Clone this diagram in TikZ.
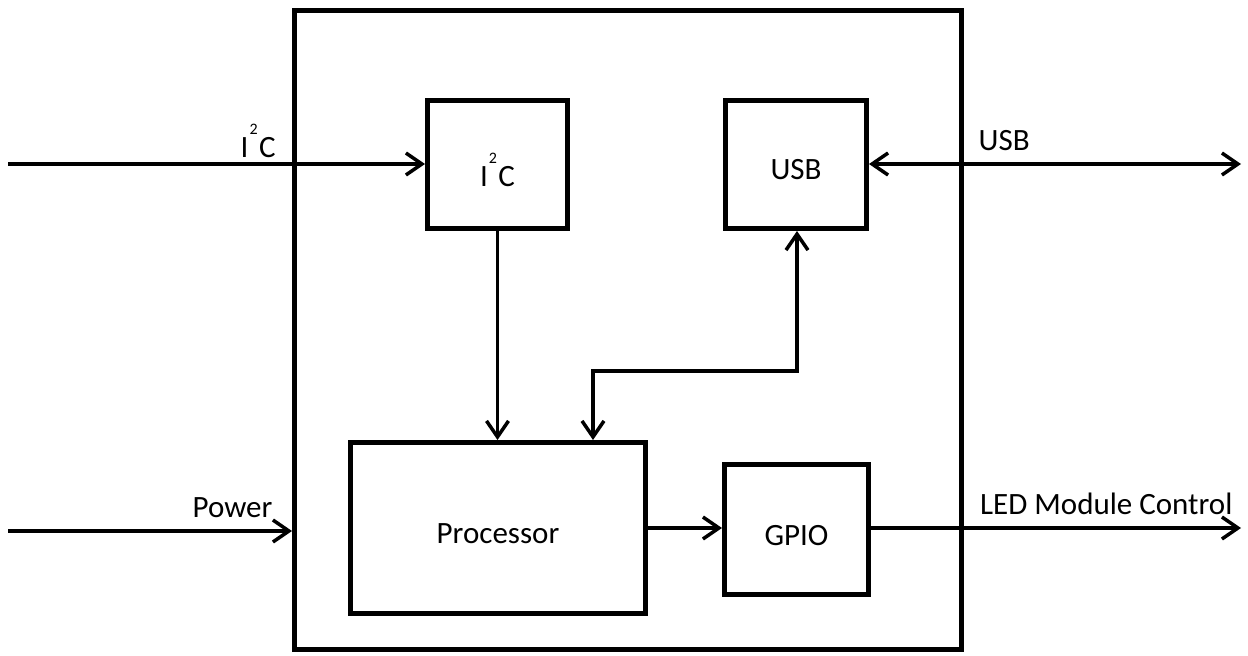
\documentclass[tikz,border=0pt]{standalone}
\usepackage{fontspec}
\setmainfont{Carlito}
\usetikzlibrary{arrows.meta}
\tikzset{
  tip/.tip={Straight Barb[length=16pt,width=22pt,line width=3.5pt]},
  blk/.style={draw, line width=5pt, inner sep=0pt, text depth=0pt, text height=30pt,
    font=\fontsize{31}{36}\selectfont},
  conn/.style={line width=3.5pt, -tip},
  bconn/.style={line width=3.5pt, tip-tip},
  lbl/.style={font=\fontsize{31}{36}\selectfont, inner sep=0pt}
}
\newcommand{\iic}{I\hspace{1pt}\raisebox{23pt}{\fontsize{16}{16}\selectfont 2}\hspace{1.5pt}C}
\begin{document}
\begin{tikzpicture}[x=1pt,y=-1pt]
\useasboundingbox (0,0) rectangle (1248,656);
% outer box
\node[draw, line width=5pt, minimum width=667pt, minimum height=639pt, inner sep=0pt] (outer) at (628,330) {};
% inner blocks
\node[blk, minimum width=140pt, minimum height=128pt, text height=43pt] (i2c) at (497.5,164.5) {\iic};
\node[blk, minimum width=141pt, minimum height=128pt, text height=29pt] (usb) at (796,164.5) {USB};
\node[blk, minimum width=294.5pt, minimum height=171pt] (proc) at (498,528) {Processor};
\node[blk, minimum width=144pt, minimum height=130pt, text height=31pt] (gpio) at (796.5,529.5) {GPIO};
% free ends
\coordinate (i2cin) at (8,164);
\coordinate (pwrin) at (8,531);
\coordinate (usbout) at (1241,164);
\coordinate (ledout) at (1241,528);
\coordinate (bend1) at (797,371);
\coordinate (bend2) at (593,371);
% connectors
\draw[conn] (i2cin) -- (i2cin -| i2c.west);
\draw[bconn] (usb.east |- usbout) -- (usbout);
\draw[conn] (i2c.south) -- (i2c.south |- proc.north);
\draw[bconn] (usb.south -| bend1) -- (bend1) -- (bend2) -- (bend2 |- proc.north);
\draw[conn] (pwrin) -- (pwrin -| outer.west);
\draw[conn] (proc.east |- ledout) -- (gpio.west |- ledout);
\draw[conn] (gpio.east |- ledout) -- (ledout);
% labels
\node[lbl, anchor=base west] (l1) at (240.5,157) {\iic};
\node[lbl, anchor=base west] (l2) at (978.5,150) {USB};
\node[lbl, anchor=base west] (l3) at (192.5,517) {Power};
\node[lbl, anchor=base west] (l4) at (980,514) {LED Module Control};
\end{tikzpicture}
\end{document}
